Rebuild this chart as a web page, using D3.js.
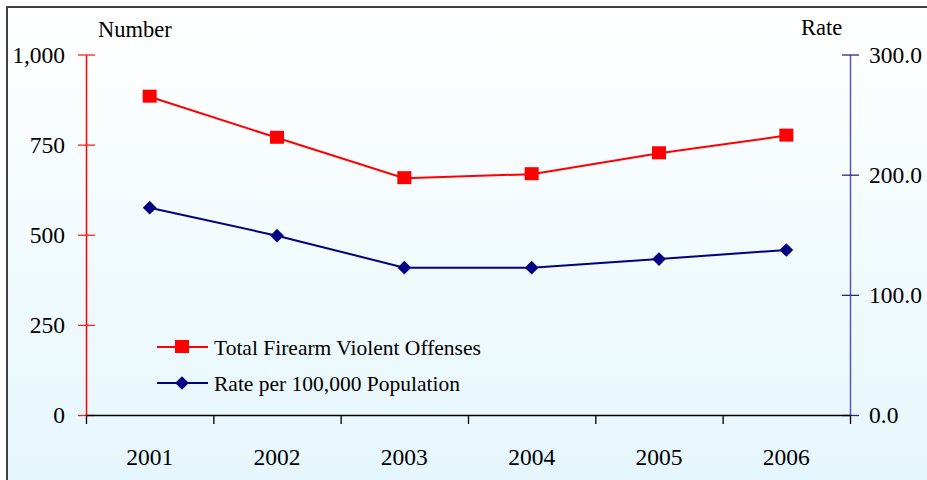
<!DOCTYPE html>
<html><head><meta charset="utf-8">
<script src="https://cdn.jsdelivr.net/npm/d3@7"></script>
<style>body{margin:0;background:#fff;} svg{display:block;} svg text{font-family:"Liberation Serif","DejaVu Serif","Times New Roman",serif !important;} .crisp{shape-rendering:crispEdges;}</style>
</head><body>
<svg id="c" width="927" height="480"></svg>
<script>
const years = ["2001","2002","2003","2004","2005","2006"];
const offenses = [883, 769, 657, 668, 726, 775];
const rates = [172.5, 149.2, 122.6, 122.6, 129.8, 137.3];
const leftTicks = [0, 250, 500, 750, 1000];
const rightTicks = [0, 100, 200, 300];
const seriesNames = ["Total Firearm Violent Offenses", "Rate per 100,000 Population"];

const svg = d3.select("#c");
const defs = svg.append("defs");
const grad = defs.append("linearGradient").attr("id","bg").attr("x1",0).attr("y1",0).attr("x2",0).attr("y2",1);
grad.append("stop").attr("offset","0%").attr("stop-color","#ffffff");
grad.append("stop").attr("offset","100%").attr("stop-color","#e4f6fc");
svg.append("rect").attr("x",7).attr("y",7).attr("width",940).attr("height",500)
  .attr("fill","url(#bg)").attr("stroke","#404040").attr("stroke-width",2);

const x0 = 86, x1 = 850, yTop = 54.5, yBot = 415;
const x = d3.scaleBand().domain(years).range([x0, x1]);
const yL = d3.scaleLinear().domain([0, 1000]).range([yBot, yTop]);
const yR = d3.scaleLinear().domain([0, 300]).range([yBot, yTop]);

// left axis
const gL = svg.append("g").attr("transform",`translate(${x0},0)`)
  .call(d3.axisLeft(yL).tickValues(leftTicks).tickSize(0).tickPadding(21).tickFormat(d3.format(",")));
gL.select(".domain").attr("stroke","#ff0000").attr("stroke-width",1.5);
gL.selectAll(".tick line").remove();
gL.selectAll(".tick").append("line").attr("x1",-8).attr("x2",9).attr("stroke","#ff2020").attr("stroke-width",1.3);
gL.selectAll(".tick text").attr("font-size",23.5).attr("fill","#000");

// right axis
const gR = svg.append("g").attr("transform",`translate(${x1},0)`)
  .call(d3.axisRight(yR).tickValues(rightTicks).tickSize(0).tickPadding(19).tickFormat(d3.format(".1f")));
gR.select(".domain").attr("stroke","#5a5ab4").attr("stroke-width",1.5);
gR.selectAll(".tick line").remove();
gR.selectAll(".tick").append("line").attr("x1",-8).attr("x2",9).attr("stroke","#2a2a8a").attr("stroke-width",1.3);
gR.selectAll(".tick text").attr("font-size",23.5).attr("fill","#000");

// x axis
const gX = svg.append("g").attr("transform",`translate(0,${yBot})`)
  .call(d3.axisBottom(x).tickSize(0).tickPadding(33));
gX.select(".domain").attr("stroke","#000").attr("stroke-width",1.3);
gX.selectAll(".tick text").attr("font-size",23.5).attr("fill","#000");
const bounds = years.map(d => x(d)).concat([x1]);
gX.selectAll(".sep").data(bounds).enter().append("line").attr("class","sep")
  .attr("x1",d=>d+0.5).attr("x2",d=>d+0.5).attr("y1",0).attr("y2",9).attr("stroke","#000").attr("stroke-width",1.3);

// titles
svg.append("text").attr("x",98).attr("y",37).text("Number").attr("font-size",22.5);
svg.append("text").attr("x",801).attr("y",35).text("Rate").attr("font-size",22.5);

const cx = d => x(d) + x.bandwidth()/2;
// red series
svg.append("path").datum(offenses)
  .attr("d", d3.line().x((d,i)=>cx(years[i])).y(d=>yL(d)))
  .attr("fill","none").attr("stroke","#ff0000").attr("stroke-width",2);
svg.selectAll(".sq").data(offenses).enter().append("rect")
  .attr("x",(d,i)=>cx(years[i])-7).attr("y",d=>yL(d)-7).attr("width",14).attr("height",13)
  .attr("fill","#ff0000");
// blue series
svg.append("path").datum(rates)
  .attr("d", d3.line().x((d,i)=>cx(years[i])).y(d=>yR(d)))
  .attr("fill","none").attr("stroke","#000080").attr("stroke-width",2);
const dia = d3.symbol().type(d3.symbolDiamond2).size(120);
svg.selectAll(".dm").data(rates).enter().append("path")
  .attr("transform",(d,i)=>`translate(${cx(years[i])},${yR(d)})`)
  .attr("d", dia).attr("fill","#000080");

// legend
const lg = svg.append("g");
[[347,"#ff0000","sq"],[383,"#000080","dm"]].forEach((r,i)=>{
  lg.append("line").attr("x1",157).attr("x2",208).attr("y1",r[0]).attr("y2",r[0]).attr("stroke",r[1]).attr("stroke-width",2);
  if (r[2]==="sq") lg.append("rect").attr("x",175).attr("y",r[0]-7).attr("width",14).attr("height",13).attr("fill",r[1]);
  else lg.append("path").attr("transform",`translate(182,${r[0]})`).attr("d",dia).attr("fill",r[1]);
  lg.append("text").attr("x",214).attr("y",r[0]+8).text(seriesNames[i]).attr("font-size",21.5);
});
</script>
</body></html>
